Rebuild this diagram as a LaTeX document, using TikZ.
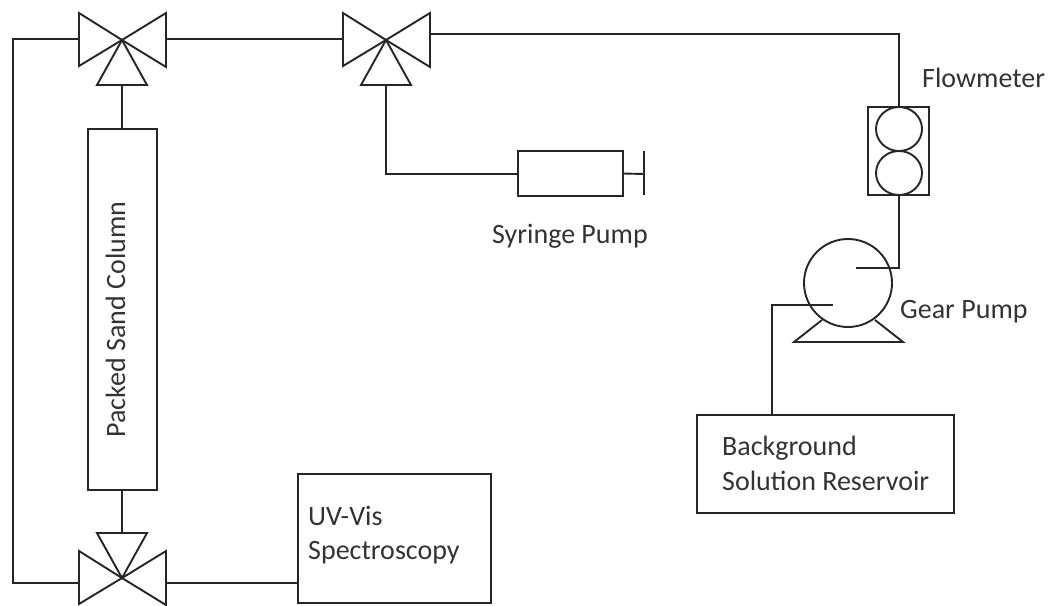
\documentclass[tikz,border=0pt]{standalone}
\usepackage{fontspec}
\setmainfont{Carlito}
\usetikzlibrary{shapes.geometric}
\tikzset{
	pipe/.style = {line width = 1.9pt, color = black!85, line join = miter},
	unit/.style = {draw, rectangle, line width = 1.9pt, color = black!85, inner sep = 0pt, outer sep = 0pt, anchor = north west},
	label/.style = {font = \fontsize{28}{32}\selectfont, text = black!80, inner sep = 0pt, align = left}
}
\begin{document}
\begin{tikzpicture}[x = 1pt, y = -1pt]
	\useasboundingbox (0,0) rectangle (1051,605);
	% three way valves
	\foreach \xi/\vx/\vy/\vs in {1/122/40/1, 2/386/40/1, 3/122/578/-1}
		{
			\coordinate (valve\xi) at (\vx,\vy);
			\coordinate (stem\xi) at (\vx,\vy+\vs*45);
			\draw[pipe] (valve\xi) -- (\vx-43,\vy-27) -- (\vx-43,\vy+26) -- cycle;
			\draw[pipe] (valve\xi) -- (\vx+44,\vy-27) -- (\vx+44,\vy+27) -- cycle;
			\draw[pipe] (valve\xi) -- (\vx-25,\vy+\vs*45) -- (\vx+25,\vy+\vs*45) -- cycle;
		}
	% boxes
	\node[unit, minimum width = 69pt, minimum height = 361pt] (column) at (88,129) {};
	\node[unit, minimum width = 193pt, minimum height = 129pt] (uvvis) at (298,474) {};
	\node[unit, minimum width = 105pt, minimum height = 45pt] (syringe) at (518,151) {};
	\node[unit, minimum width = 61pt, minimum height = 88pt] (flowmeter) at (868,107) {};
	\node[unit, minimum width = 257pt, minimum height = 98pt] (reservoir) at (697,415) {};
	\node[draw, ellipse, pipe, minimum width = 46pt, minimum height = 44pt, inner sep = 0pt, outer sep = 0pt] (flowa) at (899,129) {};
	\node[draw, ellipse, pipe, minimum width = 46pt, minimum height = 44pt, inner sep = 0pt, outer sep = 0pt] (flowb) at (899,173) {};
	\node[draw, circle, pipe, minimum size = 88pt, inner sep = 0pt, outer sep = 0pt] (pump) at (848,283) {};
	% free ends
	\coordinate (v1left) at (79,39);
	\coordinate (v1right) at (167,39);
	\coordinate (v2left) at (343,39);
	\coordinate (v2right) at (431,34);
	\coordinate (v3left) at (79,583);
	\coordinate (v3right) at (166,583);
	\coordinate (looptop) at (13,39);
	\coordinate (loopbot) at (13,583);
	\coordinate (uvport) at (298,583);
	\coordinate (syrport) at (518,174);
	\coordinate (plunger) at (644,174);
	\coordinate (pumpout) at (856,268);
	\coordinate (pumpin) at (833,305);
	\coordinate (flowtop) at (899,107);
	\coordinate (flowbot) at (899,195);
	\coordinate (resport) at (772,415);
	% pipes
	\draw[pipe] (v1left) -- (looptop) -- (loopbot) -- (v3left);
	\draw[pipe] (v1right) -- (v2left);
	\draw[pipe] (v3right) -- (uvport);
	\draw[pipe] (stem1) -- (stem1 |- column.north);
	\draw[pipe] (stem3) -- (stem3 |- column.south);
	\draw[pipe] (stem2) |- (syrport);
	\draw[pipe] (syringe.east) -- (plunger);
	\draw[pipe] (644,151) -- (plunger) -- (644,195);
	\draw[pipe] (v2right) -| (flowtop);
	\draw[pipe] (flowbot) |- (pumpout);
	\draw[pipe] (pumpin) -| (resport);
	\draw[pipe] (822,320) -- (794,342) -- (903,342) -- (875,320);
	% labels
	\node[label, rotate = 90, anchor = base] (columntext) at (125,319.5) {Packed Sand Column};
	\node[label, anchor = base west] (uvtext) at (308,525) {UV-Vis};
	\node[label, anchor = base west] (spectext) at (308,559) {Spectroscopy};
	\node[label, anchor = base west] (syrtext) at (492,243) {Syringe Pump};
	\node[label, anchor = base west] (flowtext) at (922,87) {Flowmeter};
	\node[label, anchor = base west] (gear) at (900,318) {Gear Pump};
	\node[label, anchor = base west] (restext) at (722,455) {Background};
	\node[label, anchor = base west] (soltext) at (722,490.5) {Solution Reservoir};
\end{tikzpicture}
\end{document}
